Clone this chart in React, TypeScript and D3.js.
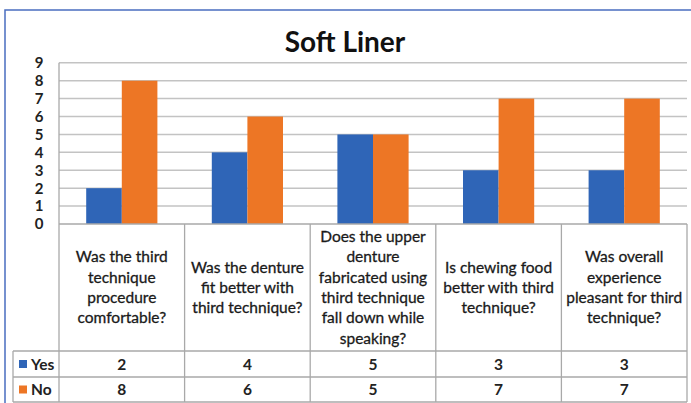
import React, { useEffect, useRef } from 'react';
import * as d3 from 'd3';

const title = 'Soft Liner';
const categories = ['Q1', 'Q2', 'Q3', 'Q4', 'Q5'];
const categoryLines: string[][] = [
  ['Was the third', 'technique', 'procedure', 'comfortable?'],
  ['Was the denture', 'fit better with', 'third technique?'],
  ['Does the upper', 'denture', 'fabricated using', 'third technique', 'fall down while', 'speaking?'],
  ['Is chewing food', 'better with third', 'technique?'],
  ['Was overall', 'experience', 'pleasant for third', 'technique?'],
];
const seriesNames = ['Yes', 'No'];
const yesValues = [2, 4, 5, 3, 3];
const noValues = [8, 6, 5, 7, 7];
const yTicks = [0, 1, 2, 3, 4, 5, 6, 7, 8, 9];

const colors: Record<string, string> = { Yes: '#2f65b7', No: '#ed7625' };
const FONT = 'Lato, "Open Sans", sans-serif';

const App: React.FC = () => {
  const svgRef = useRef<SVGSVGElement>(null);
  const width = 691;
  const height = 403;

  useEffect(() => {
    if (!svgRef.current) return;
    d3.select(svgRef.current).selectAll('*').remove();

    const svg = d3.select(svgRef.current)
      .attr('width', width)
      .attr('height', height)
      .style('font-family', FONT);

    const plotLeft = 59;
    const plotRight = 687;
    const plotTop = 62.8;
    const plotBottom = 224;
    const labelBottom = 351;
    const yesBottom = 377;
    const tableBottom = 402;
    const legendLeft = 13;

    const x = d3.scaleBand<string>().domain(categories).range([plotLeft, plotRight]);
    const bw = x.bandwidth();
    const barW = 35.6;
    const x1 = d3.scaleBand<string>().domain(seriesNames)
      .range([bw / 2 - barW, bw / 2 + barW]);
    const y = d3.scaleLinear().domain([0, 9]).range([plotBottom, plotTop]);

    // frame
    svg.append('rect')
      .attr('x', 5).attr('y', 10)
      .attr('width', 720).attr('height', 420)
      .attr('fill', 'white')
      .attr('stroke', '#4a6ec0')
      .attr('stroke-width', 1.5);

    // title
    svg.append('text')
      .attr('x', 345).attr('y', 52)
      .attr('text-anchor', 'middle')
      .style('font-size', '28px')
      .style('font-weight', 700)
      .attr('fill', '#111')
      .text(title);

    // gridlines
    svg.append('g').selectAll('line')
      .data(yTicks.filter(d => d > 0))
      .enter().append('line')
      .attr('x1', plotLeft).attr('x2', plotRight)
      .attr('y1', d => y(d)).attr('y2', d => y(d))
      .attr('stroke', '#c3c3c3')
      .attr('stroke-width', 1.5);

    // y tick labels
    svg.append('g').selectAll('text')
      .data(yTicks)
      .enter().append('text')
      .attr('x', 39)
      .attr('y', d => y(d))
      .attr('dy', '0.36em')
      .attr('text-anchor', 'middle')
      .style('font-size', '15px')
      .style('font-weight', 700)
      .attr('fill', '#222')
      .text(d => d);

    // bars
    const rows = categories.map((c, i) => ({ c, Yes: yesValues[i], No: noValues[i] }));
    const groups = svg.append('g').selectAll('g')
      .data(rows)
      .enter().append('g')
      .attr('transform', d => `translate(${x(d.c)},0)`);
    groups.selectAll('rect')
      .data(d => seriesNames.map(s => ({ s, v: (d as any)[s] as number })))
      .enter().append('rect')
      .attr('x', d => x1(d.s)!)
      .attr('width', x1.bandwidth())
      .attr('y', d => y(d.v))
      .attr('height', d => plotBottom - y(d.v))
      .attr('fill', d => colors[d.s]);

    // table lines
    const lineColor = '#a9a9a9';
    const tbl = svg.append('g').attr('stroke', lineColor).attr('stroke-width', 1.3);
    tbl.append('line')
      .attr('x1', plotLeft).attr('x2', plotLeft)
      .attr('y1', plotTop).attr('y2', tableBottom);
    tbl.append('line')
      .attr('x1', plotLeft).attr('x2', plotRight)
      .attr('y1', plotBottom).attr('y2', plotBottom);
    tbl.selectAll('.vline')
      .data(categories)
      .enter().append('line')
      .attr('x1', d => x(d)! + bw).attr('x2', d => x(d)! + bw)
      .attr('y1', plotBottom).attr('y2', tableBottom);
    [labelBottom, yesBottom, tableBottom].forEach(yy => {
      tbl.append('line')
        .attr('x1', legendLeft).attr('x2', plotRight)
        .attr('y1', yy).attr('y2', yy);
    });
    tbl.append('line')
      .attr('x1', legendLeft).attr('x2', legendLeft)
      .attr('y1', labelBottom).attr('y2', tableBottom);

    // category labels
    const lineH = 20.3;
    const midY = (plotBottom + labelBottom) / 2;
    categories.forEach((c, i) => {
      const lines = categoryLines[i];
      const t = svg.append('text')
        .attr('text-anchor', 'middle')
        .style('font-size', '15.5px')
        .attr('fill', '#1a1a1a')
        .attr('stroke', '#1a1a1a')
        .attr('stroke-width', 0.3);
      lines.forEach((ln, j) => {
        t.append('tspan')
          .attr('x', x(c)! + bw / 2)
          .attr('y', midY + (j - (lines.length - 1) / 2) * lineH)
          .attr('dy', '0.35em')
          .text(ln);
      });
    });

    // data rows
    const rowMid = [(labelBottom + yesBottom) / 2, (yesBottom + tableBottom) / 2];
    [yesValues, noValues].forEach((vals, r) => {
      svg.append('g').selectAll('text')
        .data(vals)
        .enter().append('text')
        .attr('x', (_, i) => x(categories[i])! + bw / 2)
        .attr('y', rowMid[r])
        .attr('dy', '0.36em')
        .attr('text-anchor', 'middle')
        .style('font-size', '15.5px')
        .style('font-weight', 700)
        .attr('fill', '#222')
        .text(d => d);
      // legend key
      svg.append('rect')
        .attr('x', 19).attr('y', rowMid[r] - 4)
        .attr('width', 8).attr('height', 8)
        .attr('fill', colors[seriesNames[r]]);
      svg.append('text')
        .attr('x', 31).attr('y', rowMid[r])
        .attr('dy', '0.36em')
        .style('font-size', '15.5px')
        .style('font-weight', 700)
        .attr('fill', '#222')
        .text(seriesNames[r]);
    });
  }, []);

  return (
    <svg ref={svgRef} style={{ position: 'absolute', left: 0, top: 0 }} />
  );
};

export default App;
